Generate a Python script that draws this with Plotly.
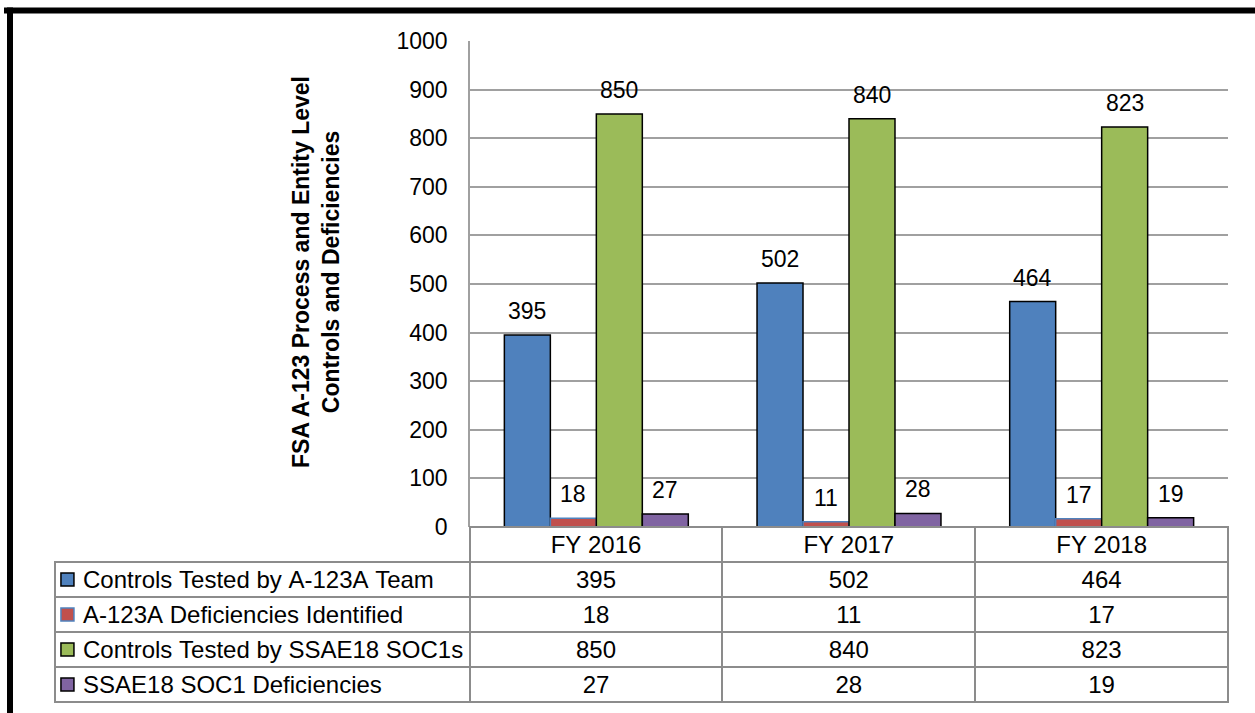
import plotly.graph_objects as go

# data
years = ["FY 2016", "FY 2017", "FY 2018"]
series_names = [
    "Controls Tested by A-123A Team",
    "A-123A Deficiencies Identified",
    "Controls Tested by SSAE18 SOC1s",
    "SSAE18 SOC1 Deficiencies",
]
tested_a123 = [395, 502, 464]
deficiencies_a123 = [18, 11, 17]
tested_soc1 = [850, 840, 823]
deficiencies_soc1 = [27, 28, 19]
y_ticks = list(range(0, 1001, 100))

series_values = [tested_a123, deficiencies_a123, tested_soc1, deficiencies_soc1]
fill_colors = ["#4F81BD", "#C0504D", "#9BBB59", "#8064A2"]
outline_colors = ["#000000", "#4F81BD", "#000000", "#000000"]

FONT = "Arial, Liberation Sans, sans-serif"
FS = 23
FS_TABLE = 24
NBSP = "\u00a0"
W, H = 1255, 713
M_L, M_R, M_T, M_B = 55, 27, 41, 9
PLOT_LEFT, PLOT_BOTTOM = 470, 527
ROW_H = 35
BARGAP = 0.272

paper_w = W - M_L - M_R
paper_h = H - M_T - M_B
plot_w = W - M_R - PLOT_LEFT
x_start = (PLOT_LEFT - M_L) / paper_w
table_top = (H - M_B - PLOT_BOTTOM) / paper_h
table_rows_span = (H - M_B - PLOT_BOTTOM) / ROW_H
bar_w = plot_w / len(years) * (1 - BARGAP) / len(series_names)


def px_x(px):
    return (px - M_L) / paper_w


def px_y(py):
    return (H - M_B - py) / paper_h


fig = go.Figure()

for name, vals, fill, line in zip(series_names, series_values, fill_colors, outline_colors):
    fig.add_trace(go.Bar(
        x=years, y=vals, name=name,
        marker=dict(color=fill, line=dict(color=line, width=1.5)),
        showlegend=False, hoverinfo="name+y",
    ))

# value labels above the bars
for s, vals in enumerate(series_values):
    for yr, v in zip(years, vals):
        fig.add_annotation(
            x=yr, y=v, xref="x", yref="y", text=str(v), showarrow=False,
            xshift=(s - 1.5) * bar_w, yshift=24, yanchor="middle",
            font=dict(family=FONT, size=FS, color="#000000"),
        )

# data table underneath, doubling as the legend.
# nbsp instead of spaces: plain single-line text keeps plotly from word-wrapping
legend_labels = [NBSP * 3 + n.replace(" ", NBSP) for n in series_names]
year_columns = [[vals[j] for vals in series_values] for j in range(len(years))]
grid_gray = "#8c8c8c"
clear = "rgba(0,0,0,0)"

fig.add_trace(go.Table(
    domain=dict(x=[0, 1], y=[0, table_top]),
    columnwidth=[415, 253, 253, 253],
    header=dict(
        values=[""] + [y.replace(" ", NBSP) for y in years],
        align="center", height=ROW_H,
        fill_color=clear,
        line=dict(color=[clear, grid_gray, grid_gray, grid_gray], width=2),
        font=dict(family=FONT, size=FS_TABLE, color="#000000"),
    ),
    cells=dict(
        values=[legend_labels] + year_columns,
        align=["left", "center", "center", "center"], height=ROW_H,
        fill_color=clear,
        line=dict(color=grid_gray, width=2),
        font=dict(family=FONT, size=FS_TABLE, color="#000000"),
    ),
))

# legend swatches inside the first table column (hidden helper axes)
fig.add_trace(go.Scatter(
    x=[0.03] * len(series_names),
    y=[1.5 + i for i in range(len(series_names))],
    xaxis="x2", yaxis="y2", mode="markers", showlegend=False, hoverinfo="skip",
    marker=dict(symbol="square", size=13, color=fill_colors,
                line=dict(color=outline_colors, width=1.5)),
))

# y axis title
fig.add_annotation(
    x=px_x(316), y=px_y(272), xref="paper", yref="paper",
    text="<b>FSA A-123 Process and Entity Level<br>Controls and Deficiencies</b>",
    textangle=-90, showarrow=False, xanchor="center", yanchor="middle",
    font=dict(family=FONT, size=FS, color="#000000"),
)

# black frame (top and left edges)
frame = dict(color="#000000", width=6)
fig.add_shape(type="line", xref="paper", yref="paper",
              x0=px_x(4), x1=px_x(1260), y0=px_y(10.5), y1=px_y(10.5), line=frame)
fig.add_shape(type="line", xref="paper", yref="paper",
              x0=px_x(10), x1=px_x(10), y0=px_y(7.5), y1=px_y(720), line=frame)

fig.update_layout(
    width=W, height=H,
    margin=dict(l=M_L, r=M_R, t=M_T, b=M_B, autoexpand=False),
    paper_bgcolor="white", plot_bgcolor="white",
    barmode="group", bargap=BARGAP, bargroupgap=0,
    font=dict(family=FONT, size=FS, color="#000000"),
    xaxis=dict(domain=[x_start, 1], showticklabels=False, showgrid=False,
               zeroline=False, showline=False, fixedrange=True, automargin=False),
    yaxis=dict(domain=[table_top, 1], range=[0, 1000], tickvals=y_ticks,
               showgrid=True, gridcolor="#a0a0a0", gridwidth=1.5,
               zeroline=False, showline=True, linecolor="#a0a0a0", linewidth=1.5,
               ticks="", ticklabelstandoff=16, automargin=False,
               tickfont=dict(family=FONT, size=FS, color="#000000"),
               fixedrange=True),
    xaxis2=dict(domain=[0, x_start], range=[0, 1], visible=False, fixedrange=True),
    yaxis2=dict(domain=[0, table_top], range=[table_rows_span, 0], visible=False,
                fixedrange=True),
)

# page margin off so the figure sits at the window's top-left corner
fig.write_html("out.html", config={"displayModeBar": False},
               post_script="document.body.style.margin='0';")
